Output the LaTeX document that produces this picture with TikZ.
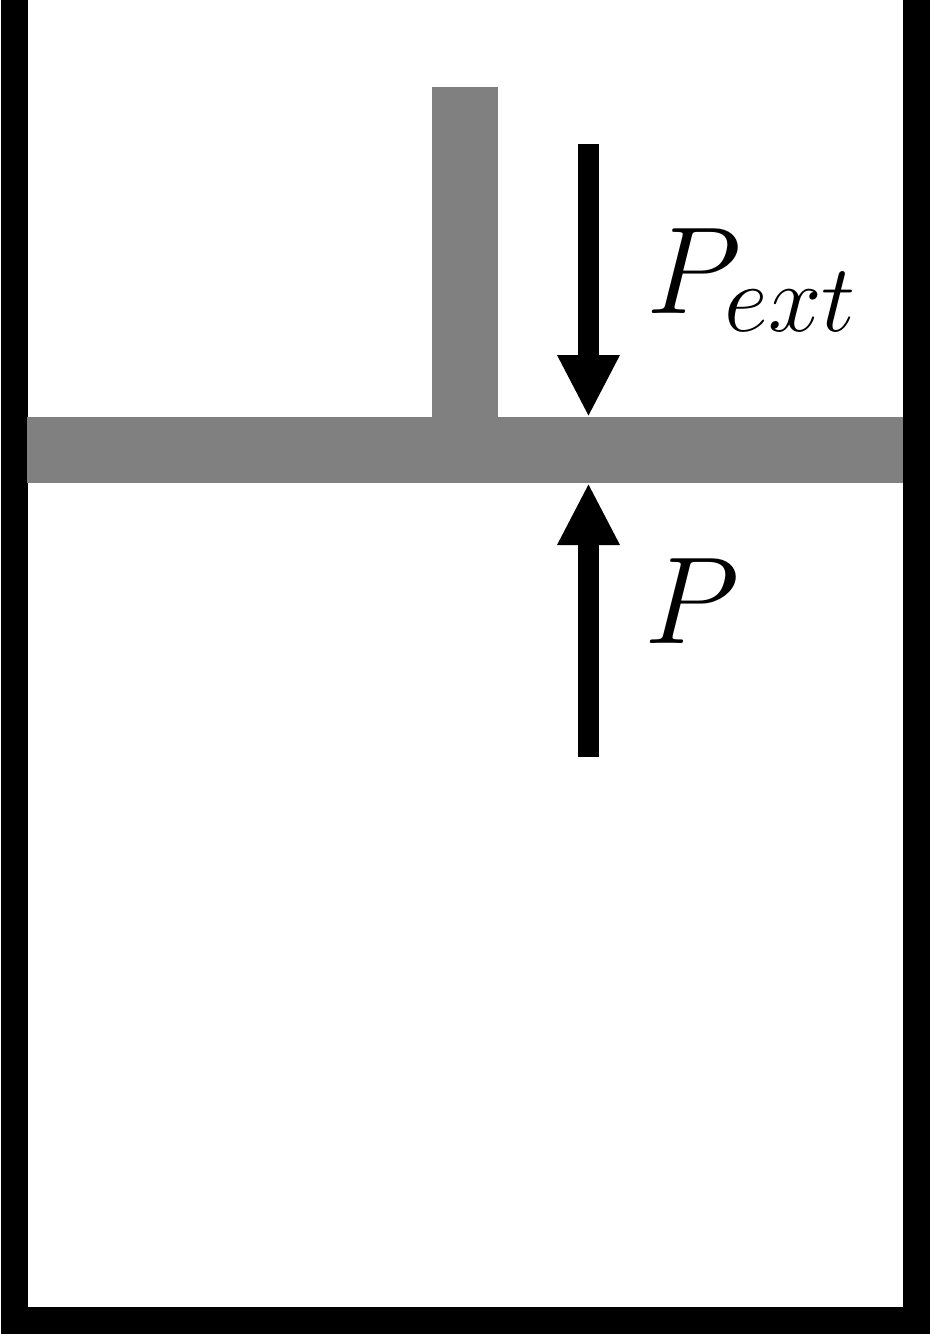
\documentclass[tikz,border=0pt]{standalone}
\usepackage{fix-cm}
\usepackage{amsmath, amssymb}
\usepackage{tikz}
\usetikzlibrary{arrows.meta}
\tikzset{>=latex}
\DeclareMathSizes{62}{62}{48}{36}
\definecolor{pistongray}{RGB}{128,128,128}
\tikzset{
  wall/.style={line width=13.5pt, line join=miter, line cap=butt},
  piston/.style={fill=pistongray, draw=none},
  force/.style={line width=10.5pt,
    -{Triangle[length=31pt, width=29pt]}},
  forcelabel/.style={font=\fontsize{62}{74}\selectfont, inner sep=0pt},
}

\begin{document}
\begin{tikzpicture}[x=0.5pt, y=-0.5pt]
  \useasboundingbox (0,0) rectangle (944,1334);

  % START: Cylinder --------------------------------
  \coordinate (wall_tl) at (14,0);
  \coordinate (wall_bl) at (14,1320);
  \coordinate (wall_br) at (916.5,1320);
  \coordinate (wall_tr) at (916.5,0);
  \draw[wall] (wall_tl) -- (wall_bl) -- (wall_br) -- (wall_tr);
  % END: Cylinder ----------------------------------

  % START: Piston ----------------------------------
  \fill[piston] (27,417) rectangle (903,483);
  \fill[piston] (432,87) rectangle (498,417);
  % END: Piston ------------------------------------

  % START: Forces ----------------------------------
  % Above
  \coordinate (ext_tail) at (588.5,144);
  \coordinate (ext_tip) at (588.5,417);
  \draw[force] (ext_tail) -- (ext_tip);
  \node[forcelabel, anchor=base west] (ext_label) at (646,313) {\(P_{ext}\)};
  % Below
  \coordinate (gas_tail) at (588.5,757);
  \coordinate (gas_tip) at (588.5,483);
  \draw[force] (gas_tail) -- (gas_tip);
  \node[forcelabel, anchor=base west] (gas_label) at (644,643) {\(P\)};
  % END: Forces ------------------------------------
\end{tikzpicture}
\end{document}
